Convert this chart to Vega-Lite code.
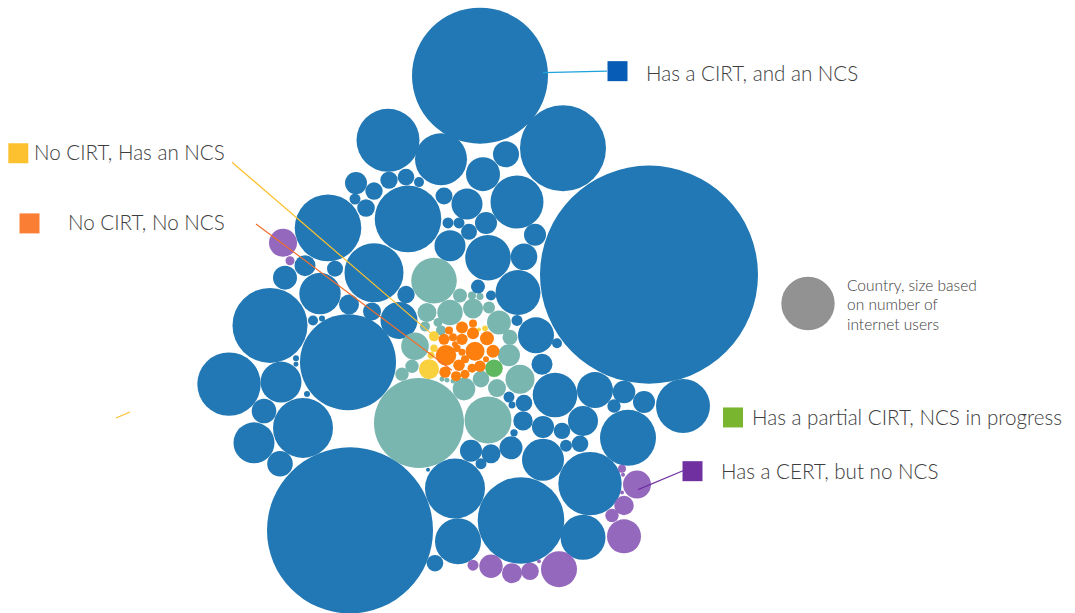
{
"$schema":"https://vega.github.io/schema/vega-lite/v6.json",
"width":1075,"height":613,
"autosize":{"type":"fit","contains":"padding"},
"padding":0,
"background":"white",
"config":{"view":{"stroke":null}},
"datasets":{
"countries":[
{"x":480,"y":76,"users":231.2,"status":"B"},
{"x":649,"y":276,"users":594.05,"status":"B"},
{"x":350,"y":533,"users":344.45,"status":"B"},
{"x":563,"y":149,"users":92.45,"status":"B"},
{"x":388,"y":141,"users":49.61,"status":"B"},
{"x":441,"y":160,"users":33.8,"status":"B"},
{"x":506,"y":155,"users":8.45,"status":"B"},
{"x":483,"y":175,"users":14.45,"status":"B"},
{"x":517,"y":203,"users":35.11,"status":"B"},
{"x":408,"y":220,"users":55.44,"status":"B"},
{"x":328,"y":229,"users":55.44,"status":"B"},
{"x":356,"y":184,"users":6.05,"status":"B"},
{"x":374,"y":192,"users":3.78,"status":"B"},
{"x":389,"y":181,"users":3.78,"status":"B"},
{"x":406,"y":178,"users":3.44,"status":"B"},
{"x":419,"y":183,"users":1.25,"status":"B"},
{"x":355,"y":200,"users":1.51,"status":"B"},
{"x":366,"y":209,"users":3.87,"status":"B"},
{"x":444,"y":197,"users":3.61,"status":"B"},
{"x":467,"y":205,"users":12.01,"status":"B"},
{"x":448,"y":224,"users":1.51,"status":"B"},
{"x":459,"y":224,"users":1.51,"status":"B"},
{"x":469,"y":233,"users":3.2,"status":"B"},
{"x":486,"y":224,"users":6.05,"status":"B"},
{"x":450,"y":247,"users":12.01,"status":"B"},
{"x":488,"y":259,"users":25.99,"status":"B"},
{"x":535,"y":236,"users":6.05,"status":"B"},
{"x":524,"y":258,"users":8.84,"status":"B"},
{"x":374,"y":274,"users":43.51,"status":"B"},
{"x":283,"y":244,"users":9.8,"status":"P"},
{"x":290,"y":262,"users":1.01,"status":"P"},
{"x":285,"y":279,"users":7.2,"status":"B"},
{"x":305,"y":267,"users":5.51,"status":"B"},
{"x":335,"y":270,"users":3.2,"status":"B"},
{"x":320,"y":295,"users":21.42,"status":"B"},
{"x":349,"y":306,"users":5.0,"status":"B"},
{"x":270,"y":327,"users":70.31,"status":"B"},
{"x":399,"y":322,"users":17.11,"status":"B"},
{"x":406,"y":296,"users":3.78,"status":"B"},
{"x":372,"y":313,"users":4.05,"status":"B"},
{"x":313,"y":322,"users":1.25,"status":"B"},
{"x":322,"y":320,"users":0.45,"status":"B"},
{"x":348,"y":364,"users":115.2,"status":"B"},
{"x":434,"y":282,"users":25.99,"status":"T"},
{"x":229,"y":386,"users":50.24,"status":"B"},
{"x":281,"y":384,"users":21.01,"status":"B"},
{"x":296,"y":360,"users":0.45,"status":"B"},
{"x":296,"y":366,"users":0.31,"status":"B"},
{"x":307,"y":396,"users":0.45,"status":"B"},
{"x":264,"y":413,"users":7.56,"status":"B"},
{"x":303,"y":430,"users":45.0,"status":"B"},
{"x":254,"y":445,"users":21.01,"status":"B"},
{"x":280,"y":466,"users":8.19,"status":"B"},
{"x":419,"y":425,"users":101.25,"status":"T"},
{"x":488,"y":422,"users":27.61,"status":"T"},
{"x":464,"y":391,"users":6.38,"status":"T"},
{"x":415,"y":348,"users":9.52,"status":"T"},
{"x":412,"y":368,"users":2.24,"status":"T"},
{"x":402,"y":376,"users":2.24,"status":"T"},
{"x":427,"y":314,"users":4.51,"status":"T"},
{"x":425,"y":328,"users":1.25,"status":"T"},
{"x":450,"y":314,"users":8.06,"status":"T"},
{"x":473,"y":310,"users":5.0,"status":"T"},
{"x":460,"y":297,"users":2.45,"status":"T"},
{"x":472,"y":297,"users":0.8,"status":"T"},
{"x":480,"y":298,"users":0.61,"status":"T"},
{"x":489,"y":309,"users":1.8,"status":"T"},
{"x":478,"y":288,"users":2.45,"status":"B"},
{"x":491,"y":297,"users":1.25,"status":"B"},
{"x":438,"y":324,"users":1.01,"status":"T"},
{"x":441,"y":332,"users":1.25,"status":"T"},
{"x":499,"y":324,"users":7.2,"status":"T"},
{"x":510,"y":339,"users":2.81,"status":"T"},
{"x":509,"y":357,"users":6.05,"status":"T"},
{"x":520,"y":381,"users":10.51,"status":"T"},
{"x":497,"y":390,"users":4.05,"status":"T"},
{"x":481,"y":381,"users":3.44,"status":"T"},
{"x":442,"y":381,"users":0.31,"status":"T"},
{"x":447,"y":382,"users":0.31,"status":"T"},
{"x":453,"y":383,"users":0.31,"status":"T"},
{"x":429,"y":371,"users":5.0,"status":"Y"},
{"x":434,"y":338,"users":1.25,"status":"Y"},
{"x":434,"y":350,"users":0.68,"status":"Y"},
{"x":431,"y":357,"users":0.61,"status":"Y"},
{"x":485,"y":330,"users":0.39,"status":"Y"},
{"x":479,"y":331,"users":0.2,"status":"Y"},
{"x":494,"y":370,"users":3.87,"status":"G"},
{"x":446,"y":357,"users":5.3,"status":"O"},
{"x":475,"y":353,"users":4.51,"status":"O"},
{"x":487,"y":340,"users":2.45,"status":"O"},
{"x":493,"y":353,"users":2.11,"status":"O"},
{"x":473,"y":335,"users":1.8,"status":"O"},
{"x":462,"y":329,"users":1.8,"status":"O"},
{"x":473,"y":325,"users":0.8,"status":"O"},
{"x":449,"y":332,"users":0.8,"status":"O"},
{"x":444,"y":341,"users":1.51,"status":"O"},
{"x":453,"y":339,"users":0.8,"status":"O"},
{"x":462,"y":341,"users":1.62,"status":"O"},
{"x":457,"y":350,"users":0.68,"status":"O"},
{"x":462,"y":354,"users":0.61,"status":"O"},
{"x":465,"y":361,"users":0.8,"status":"O"},
{"x":459,"y":367,"users":1.68,"status":"O"},
{"x":445,"y":374,"users":1.62,"status":"O"},
{"x":456,"y":378,"users":1.25,"status":"O"},
{"x":465,"y":376,"users":1.01,"status":"O"},
{"x":472,"y":370,"users":1.01,"status":"O"},
{"x":480,"y":368,"users":1.62,"status":"O"},
{"x":486,"y":361,"users":0.45,"status":"O"},
{"x":455,"y":346,"users":0.45,"status":"O"},
{"x":518,"y":294,"users":25.31,"status":"B"},
{"x":517,"y":322,"users":1.51,"status":"B"},
{"x":536,"y":337,"users":16.2,"status":"B"},
{"x":557,"y":345,"users":1.25,"status":"B"},
{"x":542,"y":366,"users":5.51,"status":"B"},
{"x":555,"y":397,"users":24.86,"status":"B"},
{"x":509,"y":399,"users":1.51,"status":"B"},
{"x":512,"y":407,"users":0.61,"status":"B"},
{"x":524,"y":405,"users":3.44,"status":"B"},
{"x":523,"y":423,"users":4.7,"status":"B"},
{"x":543,"y":429,"users":6.05,"status":"B"},
{"x":562,"y":433,"users":3.36,"status":"B"},
{"x":595,"y":392,"users":16.2,"status":"B"},
{"x":624,"y":394,"users":6.38,"status":"B"},
{"x":644,"y":404,"users":6.05,"status":"B"},
{"x":683,"y":408,"users":36.45,"status":"B"},
{"x":614,"y":408,"users":2.24,"status":"B"},
{"x":628,"y":440,"users":39.2,"status":"B"},
{"x":583,"y":423,"users":11.25,"status":"B"},
{"x":566,"y":448,"users":1.8,"status":"B"},
{"x":580,"y":446,"users":3.44,"status":"B"},
{"x":514,"y":435,"users":0.68,"status":"B"},
{"x":511,"y":450,"users":6.61,"status":"B"},
{"x":543,"y":462,"users":22.05,"status":"B"},
{"x":590,"y":486,"users":50.24,"status":"B"},
{"x":471,"y":453,"users":6.05,"status":"B"},
{"x":491,"y":456,"users":4.51,"status":"B"},
{"x":481,"y":466,"users":1.51,"status":"B"},
{"x":455,"y":491,"users":45.0,"status":"B"},
{"x":521,"y":523,"users":93.74,"status":"B"},
{"x":458,"y":544,"users":26.45,"status":"B"},
{"x":435,"y":566,"users":3.44,"status":"B"},
{"x":583,"y":540,"users":25.31,"status":"B"},
{"x":428,"y":472,"users":0.2,"status":"B"},
{"x":637,"y":487,"users":9.8,"status":"P"},
{"x":624,"y":508,"users":4.7,"status":"P"},
{"x":612,"y":518,"users":2.24,"status":"P"},
{"x":624,"y":539,"users":14.45,"status":"P"},
{"x":622,"y":471,"users":0.8,"status":"P"},
{"x":623,"y":477,"users":0.2,"status":"P"},
{"x":622,"y":495,"users":0.2,"status":"P"},
{"x":559,"y":572,"users":16.2,"status":"P"},
{"x":530,"y":574,"users":3.87,"status":"P"},
{"x":512,"y":576,"users":5.0,"status":"P"},
{"x":491,"y":569,"users":6.84,"status":"P"},
{"x":473,"y":568,"users":1.51,"status":"P"},
{"x":539,"y":564,"users":0.2,"status":"P"}
],
"leaders":[
{"x":543,"y":73,"x2":607,"y2":71.5,"status":"B"},
{"x":232,"y":163,"x2":431,"y2":335,"status":"Y"},
{"x":256,"y":225,"x2":452,"y2":372,"status":"O"},
{"x":638,"y":492,"x2":683,"y2":473,"status":"P"},
{"x":116,"y":420,"x2":130,"y2":414,"status":"Y"}
],
"keys":[
{"x":617.5,"y":71.5,"status":"B"},
{"x":18.3,"y":154,"status":"Y"},
{"x":29.5,"y":224.5,"status":"O"},
{"x":733,"y":419.5,"status":"G"},
{"x":692.5,"y":473.5,"status":"P"}
],
"sizekey":[{"x":808,"y":305}],
"labels":[
{"x":646,"y":81,"label":"Has a CIRT, and an NCS","kind":"cat"},
{"x":34,"y":161,"label":"No CIRT, Has an NCS","kind":"cat"},
{"x":68,"y":231,"label":"No CIRT, No NCS","kind":"cat"},
{"x":752,"y":427,"label":"Has a partial CIRT, NCS in progress","kind":"cat"},
{"x":721,"y":481,"label":"Has a CERT, but no NCS","kind":"cat"},
{"x":847,"y":292,"label":"Country, size based","kind":"note"},
{"x":847,"y":312,"label":"on number of","kind":"note"},
{"x":847,"y":332,"label":"internet users","kind":"note"}
]
},
"encoding":{
"x":{"field":"x","type":"quantitative","scale":{"domain":[0,1075],"nice":false,"zero":false},"axis":null},
"y":{"field":"y","type":"quantitative","scale":{"domain":[0,613],"nice":false,"zero":false,"reverse":true},"axis":null}
},
"layer":[
{"data":{"name":"countries"},
 "mark":{"type":"circle","opacity":1,"strokeWidth":0},
 "encoding":{
  "size":{"field":"users","type":"quantitative","scale":{"type":"linear","domain":[0,500],"range":[0,40000],"zero":true},"legend":null},
  "color":{"field":"status","type":"nominal","scale":{"domain":["B","T","O","Y","G","P"],"range":["#2178b4","#79b6b0","#fd800f","#f9d13e","#5fb860","#9468bd"]},"legend":null}
 }},
{"data":{"name":"leaders"},
 "mark":{"type":"rule","strokeWidth":1.2},
 "encoding":{
  "x2":{"field":"x2"},"y2":{"field":"y2"},
  "color":{"field":"status","type":"nominal","scale":{"domain":["B","Y","O","P"],"range":["#1ca3dc","#fdc12f","#f26e2c","#7030a0"]},"legend":null}
 }},
{"data":{"name":"keys"},
 "mark":{"type":"square","opacity":1,"size":400,"strokeWidth":0},
 "encoding":{
  "color":{"field":"status","type":"nominal","scale":{"domain":["B","Y","O","G","P"],"range":["#075db5","#fdc12f","#fa7f35","#7ab52f","#7030a0"]},"legend":null}
 }},
{"data":{"name":"sizekey"},
 "mark":{"type":"circle","opacity":1,"size":2850,"color":"#939292","strokeWidth":0},
 "encoding":{}},
{"data":{"name":"labels"},
 "transform":[{"filter":"datum.kind == 'cat'"}],
 "mark":{"type":"text","align":"left","baseline":"alphabetic","font":"Lato","fontSize":20.6,"fontWeight":300,"color":"#3d3d3d"},
 "encoding":{"text":{"field":"label"}}},
{"data":{"name":"labels"},
 "transform":[{"filter":"datum.kind == 'note'"}],
 "mark":{"type":"text","align":"left","baseline":"alphabetic","font":"Lato","fontSize":15.5,"fontWeight":300,"color":"#3d3d3d"},
 "encoding":{"text":{"field":"label"}}}
],
"resolve":{"scale":{"color":"independent","size":"independent"}}
}
